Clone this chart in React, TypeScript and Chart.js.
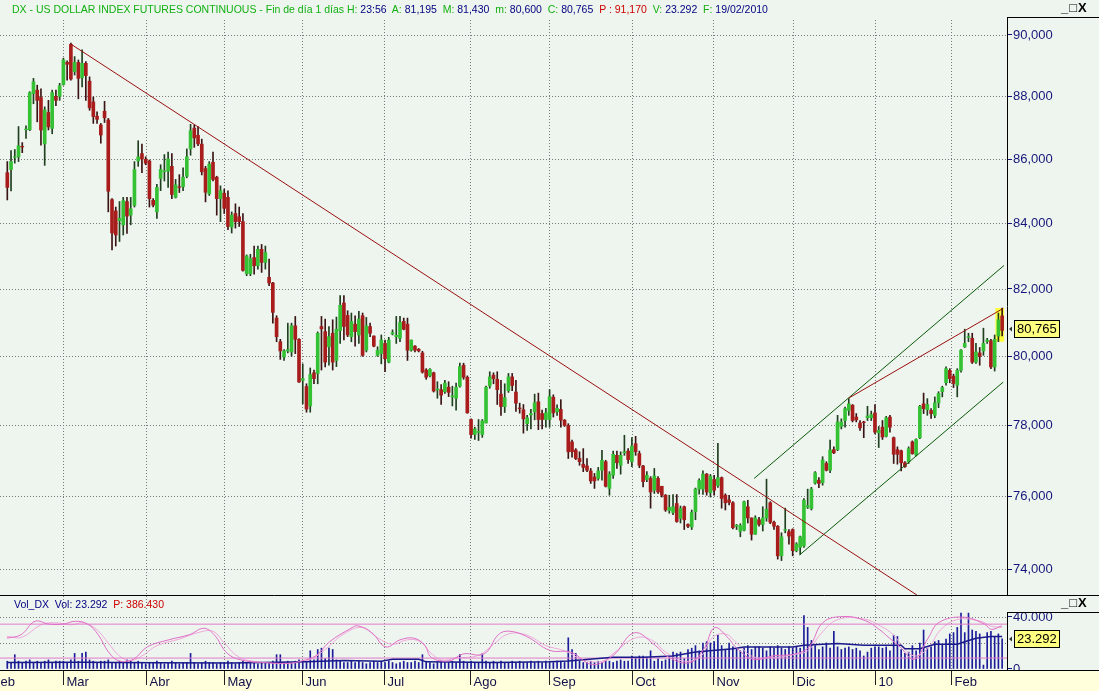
import React, { useEffect, useRef } from 'react';
import { Chart, registerables } from 'chart.js';
Chart.register(...registerables);

// ---------- DATA ----------
const OPEN = [
85.57,85.67,86.05,86.07,86.40,86.93,86.93,88.09,88.20,87.96,
86.48,87.48,86.97,88.00,88.00,88.38,89.10,89.69,88.80,89.10,
88.60,89.07,88.49,87.82,87.36,87.08,87.52,87.24,84.73,84.38,
84.08,83.95,84.67,84.25,84.55,85.94,86.17,85.99,85.94,84.71,
84.35,85.39,85.60,85.62,85.77,84.80,85.13,85.13,85.46,86.32,
86.98,86.75,86.47,85.70,84.91,85.90,85.43,84.76,84.93,84.80,
83.88,84.30,84.20,84.05,82.46,82.46,82.95,82.70,83.20,82.80,
82.35,82.18,81.13,80.43,79.98,80.16,80.13,80.90,80.50,79.30,
79.12,78.56,79.52,79.50,80.88,80.73,80.28,80.68,79.88,80.76,
81.58,81.21,80.58,80.95,80.63,81.20,80.18,80.88,80.60,80.03,
80.08,80.38,79.83,80.66,80.58,80.53,81.03,80.95,80.18,80.30,
80.21,80.10,79.60,79.43,79.52,79.02,79.03,78.97,79.10,78.82,
78.78,79.13,79.74,79.39,78.17,77.74,77.80,77.74,78.07,79.14,
79.45,79.33,78.90,78.54,79.00,79.40,78.96,78.50,78.45,78.05,
78.30,78.39,78.68,78.34,78.17,78.17,78.81,78.39,78.46,78.15,
78.00,77.53,77.30,77.06,76.90,76.85,76.71,76.54,76.50,76.73,
76.97,76.22,76.59,77.15,76.87,77.22,77.27,76.97,77.48,77.20,
76.85,76.47,76.50,76.17,76.50,76.28,76.03,75.61,75.55,75.80,
75.39,75.71,75.22,75.15,75.57,76.20,76.20,76.62,76.10,76.47,
76.30,76.52,76.03,75.90,75.82,75.17,75.03,75.06,75.71,75.40,
74.95,75.35,75.22,75.40,75.82,75.28,75.17,74.36,75.06,75.02,
75.08,74.50,74.59,74.63,75.70,75.66,76.37,76.45,76.38,76.92,
76.73,77.31,77.31,77.97,78.14,78.43,78.58,78.24,78.07,78.10,
78.22,78.22,78.36,77.79,77.95,77.69,78.24,77.65,77.31,77.28,
76.94,76.97,77.53,77.16,77.65,78.62,78.45,78.43,78.29,78.65,
78.97,79.23,79.59,79.42,79.16,79.59,80.28,80.56,80.53,79.83,
80.10,80.16,80.44,80.46,79.69,80.60,81.195];
const HIGH = [
85.92,86.27,86.30,87.03,86.52,87.05,88.15,88.58,88.36,88.24,
87.66,87.87,88.20,88.20,88.42,89.24,89.15,89.73,89.29,89.18,
89.51,89.13,88.63,87.98,87.50,87.13,87.84,87.29,84.76,84.50,
84.67,84.80,84.80,84.80,85.92,86.58,86.47,86.07,85.97,84.76,
85.21,85.82,86.14,86.22,86.17,85.36,85.51,85.72,86.32,87.10,
87.08,87.03,86.63,85.77,85.92,86.22,85.46,85.16,85.06,85.00,
84.35,84.60,84.50,84.30,83.03,83.05,83.30,83.30,83.35,83.30,
82.90,82.20,81.20,80.50,80.20,80.98,80.98,81.18,80.52,79.78,
79.20,79.66,79.60,80.72,81.18,81.10,80.88,81.08,81.16,81.80,
81.80,81.35,81.28,81.20,81.33,81.28,81.15,80.98,80.60,80.28,
80.63,80.48,80.56,80.78,81.18,81.18,81.13,81.13,80.48,80.32,
80.23,80.15,79.64,79.64,79.54,79.26,79.18,79.30,79.26,79.13,
79.22,79.80,79.80,79.43,78.19,77.95,78.17,78.17,79.13,79.55,
79.52,79.55,79.30,79.20,79.50,79.50,79.30,78.64,78.60,78.29,
78.46,78.90,78.93,78.44,78.49,79.03,78.88,78.59,78.74,78.17,
78.05,77.58,77.34,77.25,77.34,77.06,76.78,76.64,76.81,77.29,
77.01,76.69,77.27,77.27,77.25,77.72,77.34,77.65,77.69,77.27,
76.87,76.69,76.55,76.78,76.55,76.28,76.05,76.03,76.05,76.05,
75.73,75.73,75.24,75.62,76.23,76.49,76.71,76.64,76.61,76.59,
77.49,76.54,76.07,76.03,75.85,75.22,75.24,75.87,75.89,75.40,
75.46,75.42,75.71,76.48,75.85,75.31,75.19,74.99,75.67,75.08,
75.10,74.72,74.90,75.94,76.20,76.25,76.69,76.52,77.11,76.97,
77.58,77.39,78.29,78.19,78.53,78.77,78.60,78.34,78.14,78.12,
78.55,78.41,78.60,77.97,78.14,78.26,78.29,77.67,77.39,77.30,
76.97,77.39,77.56,77.62,78.58,78.93,78.77,78.48,78.82,78.97,
79.13,79.69,79.64,79.48,79.64,80.20,80.80,80.68,80.68,80.38,
80.26,80.83,80.53,80.50,80.63,81.28,81.43];
const LOW = [
84.72,85.00,85.87,85.92,86.20,86.65,86.90,87.76,87.18,86.44,
85.80,86.92,86.80,87.70,87.87,88.36,88.52,88.52,88.69,87.92,
88.30,87.87,87.55,87.13,87.13,86.50,87.16,84.35,83.18,83.30,
83.44,83.64,83.69,83.95,84.50,85.77,85.57,85.82,84.50,84.50,
84.15,85.01,85.31,85.11,84.76,84.78,84.95,85.01,85.41,86.12,
86.37,86.42,85.50,84.66,84.86,85.31,84.25,84.05,84.30,83.80,
83.70,83.85,83.90,82.54,82.40,82.40,82.45,82.60,82.50,82.60,
82.10,80.98,80.43,79.91,79.88,80.10,80.00,80.08,79.24,78.62,
78.38,78.38,79.20,79.20,79.60,79.69,79.74,79.60,79.70,80.38,
80.48,80.58,80.43,80.30,80.38,80.00,80.13,80.58,80.28,80.00,
79.78,79.55,79.81,80.63,80.38,80.43,80.78,79.88,80.15,80.13,
80.13,79.51,79.33,79.40,78.96,78.78,78.60,78.92,78.83,78.56,
78.44,79.10,79.33,78.35,77.64,77.60,77.57,77.66,78.07,79.07,
79.20,78.60,78.29,78.37,78.95,79.00,78.40,78.35,77.78,77.86,
77.90,78.16,77.88,77.90,77.95,77.95,78.24,78.29,77.95,77.97,
77.06,77.10,77.03,76.87,76.69,76.69,76.36,76.22,76.45,76.45,
76.26,76.03,76.50,76.78,76.62,77.15,76.92,76.83,77.15,76.80,
76.26,76.41,75.67,76.08,76.08,75.98,75.58,75.53,75.49,75.28,
75.26,75.08,75.13,75.08,75.35,76.06,76.05,76.03,75.98,76.03,
76.25,75.67,75.62,75.76,75.10,75.08,74.88,75.04,75.26,74.79,
74.95,75.17,75.04,75.31,75.24,75.08,74.27,74.23,74.99,74.68,
74.36,74.47,74.40,74.59,75.66,75.62,76.34,76.24,76.31,76.71,
76.66,77.20,77.28,77.90,77.95,78.29,78.10,78.10,77.86,77.65,
78.14,78.14,77.76,77.37,77.60,77.67,77.81,76.92,76.90,76.71,
76.81,76.92,77.18,77.13,77.62,78.34,78.29,78.20,78.22,78.51,
78.82,79.16,79.23,79.09,78.82,79.54,80.26,80.43,79.79,79.79,
79.74,80.03,80.38,79.64,79.57,80.43,80.60];
const CLOSE = [
85.11,85.92,86.07,86.42,86.38,86.95,88.12,88.47,87.87,86.92,
87.56,87.02,88.12,87.87,88.34,89.18,89.04,88.56,89.10,88.58,
89.07,88.67,87.63,87.35,87.26,86.76,87.31,84.99,83.70,83.64,
84.15,84.70,84.22,84.45,85.67,86.07,86.00,85.87,84.76,84.56,
85.11,85.67,85.63,86.00,84.89,85.19,85.11,85.43,86.07,86.90,
86.67,86.48,85.60,84.96,85.84,85.36,84.76,85.01,84.46,83.90,
84.25,84.05,84.05,82.56,83.00,82.92,82.70,83.20,82.80,83.10,
82.18,81.30,80.58,80.16,80.16,80.20,80.90,80.50,79.25,79.35,
78.47,79.47,79.35,80.68,80.81,79.83,80.58,79.83,80.80,81.51,
80.88,80.63,81.03,80.73,81.10,80.03,80.90,80.68,80.30,80.18,
80.48,79.93,80.48,80.70,80.62,81.00,80.80,80.18,80.48,80.18,
80.16,79.54,79.39,79.62,78.99,79.05,78.87,79.22,78.95,78.85,
79.10,79.70,79.39,78.36,77.74,77.90,77.83,78.13,79.10,79.40,
79.35,79.03,78.54,78.80,79.40,79.15,78.64,78.48,78.19,78.22,
78.34,78.65,78.17,78.17,78.36,78.83,78.36,78.49,78.15,78.00,
77.25,77.25,77.06,76.97,76.81,76.73,76.43,76.43,76.71,77.01,
76.28,76.62,77.18,76.94,77.15,77.25,77.03,77.41,77.25,76.87,
76.41,76.59,76.12,76.57,76.12,76.03,75.62,75.69,75.71,75.30,
75.66,75.35,75.17,75.55,76.20,76.44,76.62,76.12,76.56,76.17,
76.52,75.94,75.82,75.83,75.13,75.20,75.19,75.85,75.40,74.95,
75.40,75.22,75.40,75.64,75.28,75.17,74.36,74.88,75.08,74.90,
74.50,74.68,74.88,75.89,75.74,76.20,76.66,76.36,77.02,76.73,
77.30,77.22,78.10,78.10,78.48,78.62,78.14,78.16,77.93,78.08,
78.27,78.31,77.81,77.86,77.67,78.22,77.95,77.18,77.18,76.94,
76.83,77.34,77.20,77.60,78.55,78.48,78.60,78.34,78.65,78.92,
79.09,79.64,79.35,79.21,79.59,80.18,80.38,80.58,79.83,80.13,
80.00,80.38,80.48,79.69,80.50,81.08,80.765];
const VOLUME = [
6,5,11,6,5,6,7,5,6,5,6,7,5,6,6,
6,5,7,12,6,12,13,7,6,5,6,6,7,5,5,6,5,7,6,5,6,5,
4,5,5,6,5,4,5,6,5,4,5,5,12,5,4,5,6,5,5,4,5,
5,6,5,4,5,6,5,6,5,4,5,5,5,6,11,11,5,6,5,6,7,
6,5,14,7,15,16,8,16,15,7,6,5,5,6,5,6,5,4,5,6,5,6,
5,6,5,4,5,6,5,5,6,5,11,6,5,4,5,6,5,5,6,5,11,6,5,
6,5,5,12,6,5,6,5,6,5,5,6,5,6,5,5,6,5,6,5,6,
6,5,6,6,5,24,15,12,6,5,5,6,5,6,5,6,6,5,6,7,6,6,
10,9,10,10,9,14,6,8,6,7,8,13,12,13,8,15,16,18,14,20,21,20,
21,26,18,15,20,17,16,14,16,18,15,17,17,16,14,17,16,18,16,15,17,16,
17,16,41,32,22,18,15,17,20,16,29,17,15,16,17,15,16,14,10,13,16,17,
17,16,17,14,26,25,15,12,13,18,14,20,30,16,17,21,22,19,23,27,28,32,
43,28,43,30,29,27,3,28,29,25,27,23.292];
// volume moving-average line (bar index, value)
const VOL_MA = [[0,5],[20,5.2],[40,4.8],[60,4.6],[80,5.5],[90,6.5],[100,6],[103,7.5],[110,7.5],[112,5.5],[130,5],[145,5.5],[150,6.2],[162,9],[170,9],[178,10],[184,13],[194,15.6],[197,17],[210,17],[213,18.3],[222,19.7],[229,18.3],[239,18.3],[240,15.6],[244,15.6],[248,19],[254,19],[256,21],[259,23.7],[263,25],[266,25]];
// oscillator lines (bar index, value)
const OSC_A = [[-0.1,23.7],[3.7,26.4],[7.4,36.7],[11.2,34.5],[14.9,34.5],[18.2,36.7],[21.5,34.5],[24.3,26.4],[27.1,12.9],[29.9,6.2],[33.7,7.5],[37.4,17],[43.1,22.4],[48.7,26.4],[52.5,31.3],[55.3,26.4],[59,11.6],[63.7,6.2],[69.4,4.9],[75,4.3],[78.7,6.2],[82.5,10.2],[86.2,21],[91.9,31.3],[93.7,33.2],[97.5,27.8],[101.2,17],[105,22.4],[108.7,23.7],[111.6,18.3],[113.4,8.9],[118.1,6.2],[121.9,11.6],[127.5,11.6],[131.3,26.4],[134.1,29.1],[138.8,25.1],[145.1,14.3],[150.7,12.9],[156.4,3.5],[161.9,10.2],[167.6,27.8],[173.2,18.3],[176.9,8.9],[182.5,4.9],[186.3,15.6],[189.1,31.8],[192.8,23.7],[194.7,17],[199.4,7.5],[205,10.2],[210.6,11.6],[214.4,17],[218.1,35.8],[223.7,40.4],[229.4,37.2],[233.1,30.5],[235.9,23.7],[238.7,17],[242.5,7.5],[246.2,23.7],[249.1,35.8],[255.6,39.9],[261.3,34.5],[263.1,30.5],[265.9,33.2]];
const OSC_B = [[-0.1,25],[4,24.5],[9,34],[13,35.5],[17,34],[20.5,35.5],[24,30],[27,20],[30,10],[33,6.5],[36.5,11],[40,18],[46,23],[51,28],[55,29],[58,20],[62,9],[67,5.5],[73,4.6],[78,5.2],[81.5,8],[85,15],[90,27],[95,32],[99,24],[103,19],[107,22.5],[110.5,21],[113,13],[116,7],[120,8.5],[126,10.5],[130,19],[134,27],[139,26],[144,18],[149,14],[154,7],[159,6],[162.5,13],[168,24],[172.5,22],[176,13],[181,6],[185.5,10],[188.5,24],[192,27],[195,20],[199,10],[204,8.5],[210,11],[214,14],[217.5,27],[222,38],[229,38.5],[233.5,33],[237,26],[240,15],[243,10],[246.5,17],[249.5,30],[254,38],[260,37],[263,33],[266,32]];
const OSC_LEVELS = [34.5, 8.4];
const MONTH_LABELS = ['Feb','Mar','Abr','May','Jun','Jul','Ago','Sep','Oct','Nov','Dic','10','Feb'];
const MONTH_START = [-5, 14.9, 37, 58, 78.9, 100.8, 123.7, 144.9, 167, 188.8, 210, 232, 252.2];
const PRICE_TICKS = [74, 76, 78, 80, 82, 84, 86, 88, 90];
const VOL_TICKS = [0, 20, 40];
// trend lines (bar index, price)
const TREND_DOWN = [[17, 89.70], [243.2, 73.30]];
const TREND_UP = [[224.9, 78.78], [266.3, 81.42]];
const CHANNEL_HIGH = [[199.7, 76.50], [266.5, 82.71]];
const CHANNEL_LOW = [[211.8, 74.38], [266.3, 79.25]];

// ---------- STYLE ----------
const X_MIN = -1.952;
const X_MAX = 267.3;
const AXIS_W = 92;
const BG = '#eef5ee';
const STRIP_BG = '#ffffdc';
const NAVY = '#16167a';
const GRID = '#7a7a7a';
const FONT = "'Liberation Sans', Arial, sans-serif";
const fmtPrice = (v: number) => v.toFixed(3).replace('.', ',');
const pts = (a: number[][]) => a.map(([x, y]) => ({ x, y }));

function hline(ctx: CanvasRenderingContext2D, x1: number, x2: number, y: number) {
  ctx.beginPath(); ctx.moveTo(x1, y); ctx.lineTo(x2, y); ctx.stroke();
}
function vline(ctx: CanvasRenderingContext2D, x: number, y1: number, y2: number) {
  ctx.beginPath(); ctx.moveTo(x, y1); ctx.lineTo(x, y2); ctx.stroke();
}
function valueBox(ctx: CanvasRenderingContext2D, x: number, y: number, text: string) {
  ctx.save();
  ctx.font = `13px ${FONT}`;
  const w = Math.ceil(ctx.measureText(text).width) + 5;
  const top = Math.round(y - 9) + 0.5;
  ctx.fillStyle = '#ffff80';
  ctx.fillRect(x + 0.5, top, w, 17);
  ctx.strokeStyle = '#000'; ctx.lineWidth = 1;
  ctx.strokeRect(x + 0.5, top, w, 17);
  ctx.fillStyle = '#000'; ctx.textBaseline = 'middle'; ctx.textAlign = 'left';
  ctx.fillText(text, x + 3, top + 9);
  ctx.beginPath();
  ctx.moveTo(x - 5, top + 8.5); ctx.lineTo(x - 2, top + 6); ctx.lineTo(x - 2, top + 11); ctx.closePath();
  ctx.fillStyle = '#333'; ctx.fill();
  ctx.restore();
}
const fitAxis = (s: any) => { s.width = AXIS_W; s.paddingTop = 0; s.paddingBottom = 0; };

export default function App() {
  const mainRef = useRef<HTMLCanvasElement>(null);
  const volRef = useRef<HTMLCanvasElement>(null);

  useEffect(() => {
    const n = CLOSE.length;
    const idx = CLOSE.map((_, i) => i);
    const up = idx.map(i => CLOSE[i] >= OPEN[i]);

    const mainPlugin = {
      id: 'mainDeco',
      beforeDraw(chart: any) {
        const { ctx, width, height } = chart;
        ctx.save(); ctx.fillStyle = BG; ctx.fillRect(0, 0, width, height); ctx.restore();
      },
      beforeDatasetsDraw(chart: any) {
        const { ctx, chartArea: a, scales } = chart;
        const xs = scales.x, ys = scales.y;
        ctx.save();
        ctx.strokeStyle = GRID; ctx.lineWidth = 1; ctx.setLineDash([1, 2]);
        PRICE_TICKS.forEach(v => hline(ctx, a.left, a.right, Math.round(ys.getPixelForValue(v)) + 0.5));
        MONTH_START.forEach(m => {
          const x = Math.round(xs.getPixelForValue(m)) + 0.5;
          if (x > a.left && x < a.right) vline(ctx, x, a.top, a.bottom);
        });
        ctx.setLineDash([]);
        const i0 = n - 2, i1 = n - 1;
        const xl = xs.getPixelForValue(i0) - 3, xr = xs.getPixelForValue(i1) + 2;
        const yt = ys.getPixelForValue(Math.max(HIGH[i0], HIGH[i1]));
        const yb = ys.getPixelForValue(Math.min(LOW[i0], LOW[i1]));
        ctx.fillStyle = '#ffff3c';
        ctx.fillRect(xl, yt, xr - xl, yb - yt);
        ctx.restore();
      },
      afterDraw(chart: any) {
        const { ctx, chartArea: a, scales, width } = chart;
        ctx.save();
        ctx.strokeStyle = '#000'; ctx.lineWidth = 1;
        vline(ctx, a.right + 0.5, 17, a.bottom + 1);
        hline(ctx, a.right, width, 17.5);
        hline(ctx, 0, width, a.bottom + 0.5);
        ctx.restore();
        valueBox(ctx, a.right + 7, scales.y.getPixelForValue(CLOSE[n - 1]) - 1, fmtPrice(CLOSE[n - 1]));
      },
    };

    const main = new Chart(mainRef.current!, {
      type: 'bar',
      data: {
        datasets: [
          { type: 'line', data: pts(TREND_DOWN), borderColor: '#9a1010', borderWidth: 1, pointRadius: 0, order: 0 } as any,
          { type: 'line', data: pts(TREND_UP), borderColor: '#9a1010', borderWidth: 1, pointRadius: 0, order: 0 } as any,
          { type: 'line', data: pts(CHANNEL_HIGH), borderColor: '#0a5a0a', borderWidth: 1, pointRadius: 0, order: 0 } as any,
          { type: 'line', data: pts(CHANNEL_LOW), borderColor: '#0a5a0a', borderWidth: 1, pointRadius: 0, order: 0 } as any,
          {
            type: 'bar', data: idx.map(i => ({ x: i, y: [OPEN[i], CLOSE[i]] })),
            backgroundColor: idx.map(i => (up[i] ? '#34c234' : '#a81c1c')),
            borderWidth: 0, borderSkipped: false,
            barThickness: 3, grouped: false, order: 1,
          } as any,
          {
            type: 'bar', data: idx.map(i => ({ x: i, y: [LOW[i], HIGH[i]] })),
            backgroundColor: idx.map(i => (up[i] ? '#1f3f1f' : '#3a1414')),
            barThickness: 1, grouped: false, order: 2,
          } as any,
        ],
      },
      options: {
        animation: false, responsive: false, maintainAspectRatio: false, events: [],
        layout: { padding: { top: 20, bottom: 1, left: 0, right: 0 } },
        plugins: { legend: { display: false }, tooltip: { enabled: false } },
        scales: {
          x: { type: 'linear', min: X_MIN, max: X_MAX, display: false, offset: false, bounds: 'data' },
          y: {
            type: 'logarithmic', position: 'right', min: 73.30, max: 90.496,
            afterFit: fitAxis,
            afterBuildTicks: (s: any) => { s.ticks = PRICE_TICKS.map(v => ({ value: v })); },
            ticks: { callback: (v: any) => fmtPrice(Number(v)), color: NAVY, font: { family: FONT, size: 13 }, padding: 1, autoSkip: false },
            grid: { drawOnChartArea: false, drawTicks: true, tickLength: 5, color: NAVY },
            border: { display: false },
          },
        },
      } as any,
      plugins: [mainPlugin],
    });

    const volPlugin = {
      id: 'volDeco',
      beforeDraw(chart: any) {
        const { ctx, width, height } = chart;
        ctx.save(); ctx.fillStyle = BG; ctx.fillRect(0, 0, width, height); ctx.restore();
      },
      beforeDatasetsDraw(chart: any) {
        const { ctx, chartArea: a, scales } = chart;
        const xs = scales.x, ys = scales.y;
        ctx.save();
        ctx.strokeStyle = GRID; ctx.lineWidth = 1; ctx.setLineDash([1, 2]);
        [20, 40].forEach(v => hline(ctx, a.left, a.right, Math.round(ys.getPixelForValue(v)) + 0.5));
        MONTH_START.forEach(m => {
          const x = Math.round(xs.getPixelForValue(m)) + 0.5;
          if (x > a.left && x < a.right) vline(ctx, x, 0, a.bottom);
        });
        ctx.restore();
      },
      afterDraw(chart: any) {
        const { ctx, chartArea: a, scales, width, height } = chart;
        const xs = scales.x;
        ctx.save();
        ctx.fillStyle = STRIP_BG;
        ctx.fillRect(0, a.bottom + 1, width, height - a.bottom - 1);
        ctx.strokeStyle = '#000'; ctx.lineWidth = 1;
        hline(ctx, 0, width, a.bottom + 0.5);
        vline(ctx, a.right + 0.5, 16, a.bottom);
        hline(ctx, a.right, width, 16.5);
        ctx.strokeStyle = '#222';
        ctx.fillStyle = '#10104a';
        ctx.font = `13px ${FONT}`;
        ctx.textBaseline = 'alphabetic';
        MONTH_START.forEach((m, k) => {
          const x = Math.round(xs.getPixelForValue(m)) + 0.5;
          vline(ctx, x, a.bottom + 1, a.bottom + 15);
          ctx.fillText(MONTH_LABELS[k], x + 3, height - 5);
        });
        ctx.restore();
        valueBox(ctx, a.right + 7, scales.y.getPixelForValue(VOLUME[n - 1]), String(VOLUME[n - 1].toFixed(3)));
      },
    };

    const vol = new Chart(volRef.current!, {
      type: 'bar',
      data: {
        datasets: [
          ...OSC_LEVELS.map(l => ({ type: 'line', data: [{ x: X_MIN, y: l }, { x: X_MAX, y: l }], borderColor: '#e27ccb', borderWidth: 1, pointRadius: 0, order: 1 } as any)),
          { type: 'line', data: pts(OSC_B), borderColor: '#f0a8dc', borderWidth: 1, pointRadius: 0, tension: 0.4, order: 1 } as any,
          { type: 'line', data: pts(OSC_A), borderColor: '#e070c8', borderWidth: 1, pointRadius: 0, tension: 0.4, order: 0 } as any,
          { type: 'line', data: pts(VOL_MA), borderColor: '#1a1a8c', borderWidth: 1.5, pointRadius: 0, order: 0 } as any,
          { type: 'bar', data: idx.map(i => ({ x: i, y: VOLUME[i] })), backgroundColor: '#1c1c9a', barThickness: 1, grouped: false, order: 3 } as any,
        ],
      },
      options: {
        animation: false, responsive: false, maintainAspectRatio: false, events: [],
        layout: { padding: { top: 1, bottom: 21, left: 0, right: 0 } },
        plugins: { legend: { display: false }, tooltip: { enabled: false } },
        scales: {
          x: { type: 'linear', min: X_MIN, max: X_MAX, display: false, offset: false, bounds: 'data' },
          y: {
            type: 'linear', position: 'right', min: -0.77, max: 55.38,
            afterFit: fitAxis,
            afterBuildTicks: (s: any) => { s.ticks = VOL_TICKS.map(v => ({ value: v })); },
            ticks: { callback: (v: any) => (v === 0 ? '0' : v === 40 ? '40.000' : ''), color: NAVY, font: { family: FONT, size: 13 }, padding: 1, autoSkip: false },
            grid: { drawOnChartArea: false, drawTicks: true, tickLength: 5, tickColor: (c: any) => (c.tick && c.tick.value === 20 ? 'rgba(0,0,0,0)' : NAVY) },
            border: { display: false },
          },
        },
      } as any,
      plugins: [volPlugin],
    });

    return () => { main.destroy(); vol.destroy(); };
  }, []);

  const G = { color: '#12b012' };
  const N = { color: '#000080' };
  const R = { color: '#cc0000' };
  const btn: React.CSSProperties = { position: 'absolute', font: `bold 13px ${FONT}`, color: '#000', letterSpacing: 1 };

  return (
    <div style={{ position: 'absolute', left: 0, top: 0, width: 1099, height: 691, overflow: 'hidden', background: BG }}>
      <canvas ref={mainRef} width={1099} height={596} style={{ position: 'absolute', left: 0, top: 0, display: 'block' }} />
      <canvas ref={volRef} width={1099} height={95} style={{ position: 'absolute', left: 0, top: 596, display: 'block' }} />
      <div style={{ position: 'absolute', left: 12, top: 3, font: `10.5px ${FONT}`, whiteSpace: 'pre', lineHeight: '13px' }}>
        <span style={G}>DX - US DOLLAR INDEX FUTURES CONTINUOUS - Fin de día 1 días H: </span><span style={N}>23:56</span>
        <span style={G}>  A: </span><span style={N}>81,195</span>
        <span style={G}>  M: </span><span style={N}>81,430</span>
        <span style={G}>  m: </span><span style={N}>80,600</span>
        <span style={G}>  C: </span><span style={N}>80,765</span>
        <span style={R}>  P : 91,170</span>
        <span style={G}>  V: </span><span style={N}>23.292</span>
        <span style={G}>  F: </span><span style={N}>19/02/2010</span>
      </div>
      <div style={{ ...btn, left: 1061, top: 0 }}>_□X</div>
      <div style={{ position: 'absolute', left: 14, top: 598, font: `10.5px ${FONT}`, whiteSpace: 'pre', lineHeight: '13px' }}>
        <span style={N}>Vol_DX  Vol: 23.292  </span><span style={R}>P: 386.430</span>
      </div>
      <div style={{ ...btn, left: 1061, top: 595 }}>_□X</div>
    </div>
  );
}
